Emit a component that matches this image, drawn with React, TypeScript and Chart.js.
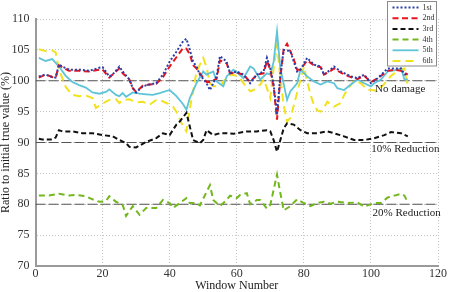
import React, { useEffect, useRef } from 'react';
import { Chart, registerables } from 'chart.js';
Chart.register(...registerables);

const seriesLabels = ['1st', '2nd', '3rd', '4th', '5th', '6th'];

const series1: [number, number][] = [[1,100.7],[3,101],[5,100.6],[6,100.5],[7,102.6],[8,102.3],[10,101.8],[13,101.8],[16,101.6],[19,102.1],[20,102.2],[22,100.7],[23,101],[25,102.3],[26,101.5],[28,100.2],[29,98.8],[30,98.1],[32,99.1],[34,99.4],[36,99.6],[38,101],[40,103.1],[42,104.7],[44,106.4],[45,106.8],[46,105],[47,103.1],[48,102.3],[49,101],[51,99.6],[52,98.5],[54,100.7],[55,104],[57,103.1],[58,101.2],[60,101.5],[62,101],[64,99.6],[66,101],[68,101.5],[69,103.7],[70,102],[71,99.4],[72,94.5],[73,101],[74,105],[76,104.8],[77,103.1],[78,101.5],[79,101.8],[81,103.7],[83,102.6],[85,102.3],[86,101],[88,101.8],[89,102.3],[91,101.5],[94,100.7],[96,100.4],[98,101],[100,99.6],[102,100.4],[105,102],[107,102],[109,102],[110,101],[111,101]];

const series2: [number, number][] = [[1,100.5],[3,101],[5,100.6],[6,100.5],[7,102.5],[8,102.2],[10,101.6],[13,101.6],[16,101.5],[19,101.8],[20,101.8],[22,100.5],[23,101],[25,102],[26,101.2],[28,100.2],[29,98.8],[30,98.2],[32,99.2],[34,99.4],[36,99.5],[38,100.6],[40,102.3],[42,103.8],[44,105.3],[45,105.2],[46,104.3],[47,102.5],[48,102],[49,101.2],[51,99.8],[52,99.8],[54,100.3],[55,103.3],[57,102.8],[58,101.2],[60,101.3],[62,101],[64,99.8],[66,101],[68,101.2],[69,103.2],[70,101.8],[71,99],[72,93.7],[73,100.5],[74,105.2],[75,106],[77,103.5],[78,101.8],[79,101.8],[81,103.3],[83,102.5],[85,102.2],[86,101],[88,101.6],[89,102],[91,101.3],[94,100.6],[96,100.3],[98,100.8],[100,99.8],[102,100.4],[105,101.6],[107,101.8],[109,101.6],[111,101]];

const series3: [number, number][] = [[1,90.6],[2,90.5],[5,90.5],[6,90.8],[7,92],[8,91.8],[11,91.8],[14,91.5],[17,91.5],[20,91.2],[23,91],[25,90.4],[27,89.9],[28,89.3],[30,89.2],[33,90.1],[36,90.7],[38,91.5],[40,91.2],[42,92.9],[43,93.4],[45,94.8],[46,92.6],[47,90.4],[49,89.9],[50,90.4],[51,92],[53,91.2],[55,91.5],[57,91.5],[59,91.4],[60,91.5],[63,91.8],[66,91.8],[69,92],[70,91.8],[71,90.4],[72,88.5],[74,92.3],[75,93.1],[77,92.9],[79,92],[81,91.5],[84,91.5],[87,91.8],[89,91.5],[92,91],[95,90.4],[98,90.4],[101,90.7],[104,91.2],[106,91.7],[109,91.5],[111,91]];

const series4: [number, number][] = [[1,81.4],[4,81.4],[7,81.7],[10,81.4],[12,81.5],[15,81.3],[17,80.8],[19,80.4],[21,80.5],[22,81.3],[24,80.4],[26,79.9],[27,78.1],[29,79.7],[31,78.3],[33,79.4],[36,79.4],[38,80.7],[40,80.2],[41,79.4],[43,80.2],[45,81],[46,80.2],[48,80.2],[49,79.8],[52,83.1],[53,80.7],[55,79.7],[57,80.7],[58,81.4],[60,81],[61,81.5],[63,81.8],[64,80],[66,80.7],[67,80.7],[69,79.3],[70,79.9],[72,84.8],[73,81.8],[74,79],[76,79.7],[78,80.8],[80,80.2],[82,79.7],[84,80.2],[86,80.4],[88,80.1],[90,80.4],[93,80.2],[96,80.3],[98,79.6],[101,80.2],[103,80.2],[105,81.1],[107,81.4],[109,81.7],[110,81.4],[111,80.3]];

const series5: [number, number][] = [[1,103.7],[3,103.2],[5,103.5],[7,102.3],[9,100.8],[11,99.8],[13,99.3],[15,98.9],[17,98.1],[19,97.9],[21,98.2],[22,98.6],[24,97.7],[25,97.5],[26,98],[27,97.4],[29,98.1],[31,97.9],[33,97.8],[35,97.7],[37,98],[40,98.5],[42,97.5],[44,96.2],[45,95.3],[46,97.2],[48,99.6],[50,101.5],[51,101],[53,101.5],[54,99.9],[56,99.1],[57,100.7],[59,101.8],[60,101.4],[62,100.4],[64,102.3],[65,102],[67,100.2],[69,101.2],[70,101],[71,103.1],[72,108],[73,102],[75,96.9],[76,98.3],[78,99.6],[79,101.8],[81,100.7],[83,99.9],[85,99.4],[87,99.9],[89,99.6],[90,98.8],[92,98.5],[94,99.4],[96,100.2],[98,99.6],[100,99.1],[101,99.6],[103,100.2],[105,101.5],[107,101.7],[109,102],[110,100.2],[111,100.2]];

const series6: [number, number][] = [[1,105.1],[3,104.8],[5,104.9],[6,104.6],[7,101.8],[8,100.4],[9,99],[11,97.7],[13,97.5],[15,97.6],[17,97.2],[18,95.6],[20,96.3],[22,96.9],[24,97],[25,96.4],[26,96.9],[28,97],[30,96.5],[32,96.6],[34,96.1],[36,96.9],[37,96.9],[39,96.4],[41,95.8],[42,95],[44,92.6],[45,91.8],[46,95.5],[47,98.3],[48,101.5],[50,103.7],[51,102.2],[52,99.6],[53,99.1],[55,99.1],[56,99.9],[58,101],[60,100.8],[61,100.4],[62,99.6],[64,98.3],[65,98.5],[67,99.4],[68,100.2],[69,98.8],[70,97.2],[71,102],[72,105.8],[73,100.5],[74,96],[75,93.4],[76,94],[77,96],[79,100.2],[80,102.3],[81,99.9],[82,97.7],[83,96.1],[84,95.2],[85,95],[86,95.6],[87,96.6],[88,96.2],[89,95.8],[91,96.4],[92,97.7],[93,98.6],[95,100],[97,99.6],[99,98.5],[100,98.5],[102,98.4],[104,99.5],[106,100.8],[108,101.6],[110,102],[111,99.2]];

const refLevels = [100, 90, 80];
const refLabels = ['No damage', '10% Reduction', '20% Reduction'];
const refLabelX = [101.2, 100.1, 100.5];
const refLabelY = [98.6, 89.0, 78.6];

const xRange = [0, 120];
const yRange = [70, 110];
const xStep = 20;
const yStep = 5;

const FONT = "'Liberation Serif', 'Times New Roman', serif";

const styles = [
  { color: '#2b3ea8', dash: [2, 2], width: 2 },
  { color: '#e8141c', dash: [6, 3.5], width: 2 },
  { color: '#111111', dash: [5, 3], width: 2 },
  { color: '#72b81c', dash: [6, 4], width: 2 },
  { color: '#5ec4d8', dash: [], width: 1.8 },
  { color: '#f2e21e', dash: [8, 5], width: 2 },
];

const allSeries = [series1, series2, series3, series4, series5, series6];

const legendPlugin = {
  id: 'customLegend',
  afterDraw(chart: any) {
    const ctx = chart.ctx;
    ctx.save();
    const bx = 387.5, by = 1.5, bw = 49, bh = 64.5;
    ctx.fillStyle = '#ffffff';
    ctx.fillRect(bx, by, bw, bh);
    ctx.strokeStyle = '#8a8a8a';
    ctx.lineWidth = 1;
    ctx.setLineDash([]);
    ctx.strokeRect(bx, by, bw, bh);
    for (let i = 0; i < seriesLabels.length; i++) {
      const ds = chart.data.datasets[i];
      const y = 7.5 + i * 10.7;
      ctx.beginPath();
      ctx.setLineDash(ds.borderDash || []);
      ctx.strokeStyle = ds.borderColor;
      ctx.lineWidth = ds.borderWidth;
      ctx.moveTo(392.5, y);
      ctx.lineTo(418.5, y);
      ctx.stroke();
      ctx.setLineDash([]);
      ctx.fillStyle = '#333';
      ctx.font = `8px ${FONT}`;
      ctx.textBaseline = 'middle';
      ctx.textAlign = 'left';
      ctx.fillText(ds.label, 422.5, y);
    }
    ctx.restore();
  },
};

const textPlugin = {
  id: 'refText',
  afterDatasetsDraw(chart: any) {
    const ctx = chart.ctx;
    const xs = chart.scales.x;
    const ys = chart.scales.y;
    ctx.save();
    ctx.fillStyle = '#222';
    ctx.font = `11px ${FONT}`;
    ctx.textBaseline = 'middle';
    ctx.textAlign = 'left';
    for (let i = 0; i < refLabels.length; i++) {
      ctx.fillText(refLabels[i], xs.getPixelForValue(refLabelX[i]), ys.getPixelForValue(refLabelY[i]));
    }
    ctx.restore();
  },
};

export default function App() {
  const ref = useRef<HTMLCanvasElement | null>(null);
  useEffect(() => {
    if (!ref.current) return;
    const datasets: any[] = allSeries.map((s, i) => ({
      label: seriesLabels[i],
      data: s.map(([x, y]) => ({ x, y })),
      borderColor: styles[i].color,
      borderDash: styles[i].dash,
      borderWidth: styles[i].width,
      pointRadius: 0,
      fill: false,
      tension: 0,
      order: i,
    }));
    refLevels.forEach((lv) => {
      datasets.push({
        label: '',
        data: [{ x: xRange[0], y: lv }, { x: xRange[1], y: lv }],
        borderColor: '#555555',
        borderDash: [10, 3],
        borderWidth: 1.2,
        pointRadius: 0,
        fill: false,
        order: 20,
      });
    });
    const chart = new Chart(ref.current, {
      type: 'line',
      data: { datasets },
      options: {
        animation: false,
        responsive: false,
        maintainAspectRatio: false,
        layout: { padding: { left: 0, right: 12, top: 19, bottom: 0 } },
        plugins: { legend: { display: false }, tooltip: { enabled: false } },
        scales: {
          x: {
            type: 'linear',
            min: xRange[0],
            max: xRange[1],
            ticks: { stepSize: xStep, color: '#333', font: { family: FONT, size: 12 }, padding: 1, maxRotation: 0 },
            grid: { color: '#c4c4c4', lineWidth: 1, drawTicks: false },
            border: { display: true, color: '#9a9a9a', width: 2, dash: [1, 2] },
            title: { display: true, text: 'Window Number', color: '#222', font: { family: FONT, size: 12, lineHeight: 1 }, padding: 0 },
            afterFit: (s: any) => { s.height = 26; },
          },
          y: {
            min: yRange[0],
            max: yRange[1],
            ticks: { stepSize: yStep, color: '#333', font: { family: FONT, size: 12 }, padding: 6 },
            grid: { color: '#c4c4c4', lineWidth: 1, drawTicks: false },
            border: { display: true, color: '#9a9a9a', width: 2, dash: [1, 2] },
            title: { display: true, text: 'Ratio to initial true value (%)', color: '#222', font: { family: FONT, size: 12, lineHeight: 1 }, padding: 0 },
            afterFit: (s: any) => { s.width = 35.5; },
          },
        },
      },
      plugins: [textPlugin, legendPlugin],
    });
    return () => chart.destroy();
  }, []);
  return (
    <div style={{ position: 'fixed', left: 0, top: 0, width: 450, height: 292, background: '#fff' }}>
      <canvas ref={ref} width={450} height={292} style={{ width: 450, height: 292 }} />
    </div>
  );
}
